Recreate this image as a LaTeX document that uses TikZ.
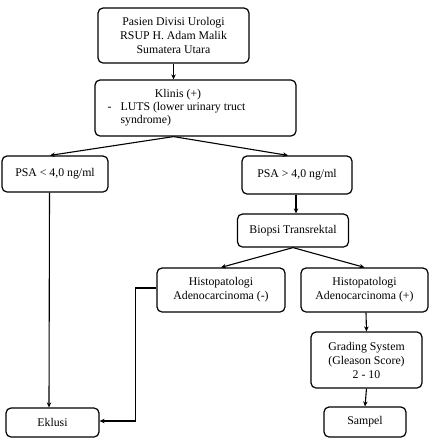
\documentclass[tikz,border=0pt]{standalone}
\usepackage{fontspec}
\setmainfont{Liberation Serif}
\usetikzlibrary{arrows.meta,calc}
\begin{document}
\begin{tikzpicture}[x=1pt,y=-1pt,
  box/.style={draw,line width=1.2pt,rounded corners=5pt,align=center,inner sep=0pt,font=\fontsize{11.8}{14}\selectfont},
  arr/.style={line width=1.1pt,-{Stealth[length=5pt,width=4.5pt]}},
  ln/.style={line width=1.1pt}]
\useasboundingbox (0,0) rectangle (431,440);
\node[box,minimum width=151pt,minimum height=55pt] (pasien) at (173.5,35.5) {Pasien Divisi Urologi\\RSUP H. Adam Malik\\Sumatera Utara};
\node[box,minimum width=201pt,minimum height=56pt] (klinis) at (195.5,108)
 {\begin{tabular}{@{}p{13pt}@{}l@{}}\multicolumn{2}{@{}c@{}}{\hspace{3pt}Klinis (+)}\\[-1pt]-&LUTS (lower urinary truct\\[-1pt]&syndrome)\end{tabular}\hspace{38pt}};
\node[box,minimum width=106pt,minimum height=36pt] (psalo) at (55,174) {PSA < 4,0 ng/ml};
\node[box,minimum width=110pt,minimum height=38pt] (psahi) at (297,175) {PSA > 4,0 ng/ml};
\node[box,minimum width=111pt,minimum height=33pt] (biopsi) at (293,230.5) {Biopsi Transrektal};
\node[box,minimum width=128pt,minimum height=44pt] (hneg) at (221,290) {Histopatologi\\Adenocarcinoma (-)};
\node[box,minimum width=127pt,minimum height=44pt] (hpos) at (364.5,290) {Histopatologi\\Adenocarcinoma (+)};
\node[box,minimum width=111pt,minimum height=56pt] (grading) at (366.5,360) {Grading System\\(Gleason Score)\\2 - 10};
\node[box,minimum width=82pt,minimum height=30pt] (sampel) at (365,422) {Sampel};
\node[box,minimum width=93pt,minimum height=29pt] (eklusi) at (52.5,422.5) {Eklusi};
\coordinate (kb) at (klinis.south -| pasien.south);
\draw[arr] (pasien.south) -- (kb |- klinis.north);
\draw[arr] (kb) -- ([xshift=-5pt]psalo.north);
\draw[arr] (kb) -- ([xshift=-9pt]psahi.north);
\draw[arr] ([xshift=-1pt]psahi.south) -- ([xshift=3pt]biopsi.north);
\draw[arr] (biopsi.south) -- (hneg.north);
\draw[arr] (biopsi.south) -- (hpos.north);
\draw[arr] ([xshift=1.5pt]hpos.south) -- (grading.north);
\draw[arr] (grading.south) -- (sampel.north);
\draw[arr] ([xshift=-5.5pt]psalo.south) -- ([xshift=-3.5pt]eklusi.north);
\draw[arr] ([yshift=2pt]hneg.west) -| ($(hneg.west)+(-21,0)$) |- ([yshift=1.5pt]eklusi.east);
\end{tikzpicture}
\end{document}
